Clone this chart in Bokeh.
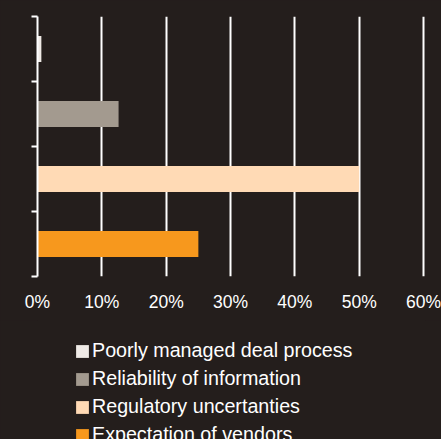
from bokeh.plotting import figure
from bokeh.models import Legend, LegendItem, FixedTicker, Range1d
from bokeh.layouts import column
from bokeh.embed import file_html
from bokeh.resources import INLINE

categories = ["Poorly managed deal process", "Reliability of information",
              "Regulatory uncertanties", "Expectation of vendors"]
values = [0.6, 12.6, 50.0, 25.0]
colors = ["#efeae6", "#a39a8f", "#ffdab5", "#f7981d"]
positions = [3.5, 2.5, 1.5, 0.5]
x_ticks = [0, 10, 20, 30, 40, 50, 60]
x_tick_labels = ["0%", "10%", "20%", "30%", "40%", "50%", "60%"]

BG = "#241e1c"
p = figure(width=441, height=320, output_backend="svg", toolbar_location=None,
           x_range=Range1d(0, 60.3), y_range=Range1d(0, 4),
           min_border_left=37, min_border_right=16, min_border_top=16, min_border_bottom=44)
p.background_fill_color = BG
p.border_fill_color = BG
p.outline_line_color = None
p.styles = {"background-color": BG}

for v, c, y in zip(values, colors, positions):
    p.hbar(y=[y], right=[v], left=0, height=0.4, fill_color=c, line_color=None)

p.xaxis.ticker = FixedTicker(ticks=x_ticks)
p.xaxis.major_label_overrides = {t: l for t, l in zip(x_ticks, x_tick_labels)}
p.xaxis.axis_line_color = None
p.xaxis.major_tick_line_color = None
p.xaxis.minor_tick_line_color = None
p.xaxis.major_label_text_color = "white"
p.xaxis.major_label_text_font = "Liberation Sans"
p.xaxis.major_label_text_font_size = "17.5px"
p.xaxis.major_label_standoff = 9

p.yaxis.ticker = FixedTicker(ticks=[0, 1, 2, 3, 4])
p.yaxis.major_label_overrides = {0: "", 1: "", 2: "", 3: "", 4: ""}
p.yaxis.axis_line_color = "white"
p.yaxis.axis_line_width = 2
p.yaxis.major_tick_line_color = "white"
p.yaxis.major_tick_line_width = 2
p.yaxis.major_tick_out = 6
p.yaxis.major_tick_in = 0
p.yaxis.minor_tick_line_color = None

p.xgrid.grid_line_color = "white"
p.xgrid.grid_line_width = 2
p.xgrid.grid_line_alpha = 1
p.ygrid.grid_line_color = None

# legend panel (swatch renderers sit outside the visible range)
q = figure(width=441, height=119, output_backend="svg", toolbar_location=None,
           x_range=Range1d(0, 60.3), y_range=Range1d(10, 11),
           min_border_left=37, min_border_right=16, min_border_top=0, min_border_bottom=0)
q.background_fill_color = BG
q.border_fill_color = BG
q.outline_line_color = None
q.styles = {"background-color": BG}
q.axis.visible = False
q.grid.visible = False
items = []
for cat, v, c, y in zip(categories, values, colors, positions):
    r = q.hbar(y=[y], right=[v], left=0, height=0.4, fill_color=c, line_color=None)
    items.append(LegendItem(label=cat, renderers=[r]))

legend = Legend(items=items, location=(37, -7), orientation="vertical",
                glyph_width=16, glyph_height=16, label_height=20, spacing=5,
                label_standoff=2, padding=0, margin=0,
                label_text_color="white", label_text_font="Liberation Sans",
                label_text_font_size="19.7px",
                border_line_color=None, background_fill_alpha=0)
q.add_layout(legend, "center")

layout = column(p, q, spacing=0, styles={"background-color": BG})
open("out.html", "w").write(file_html(layout, INLINE))
